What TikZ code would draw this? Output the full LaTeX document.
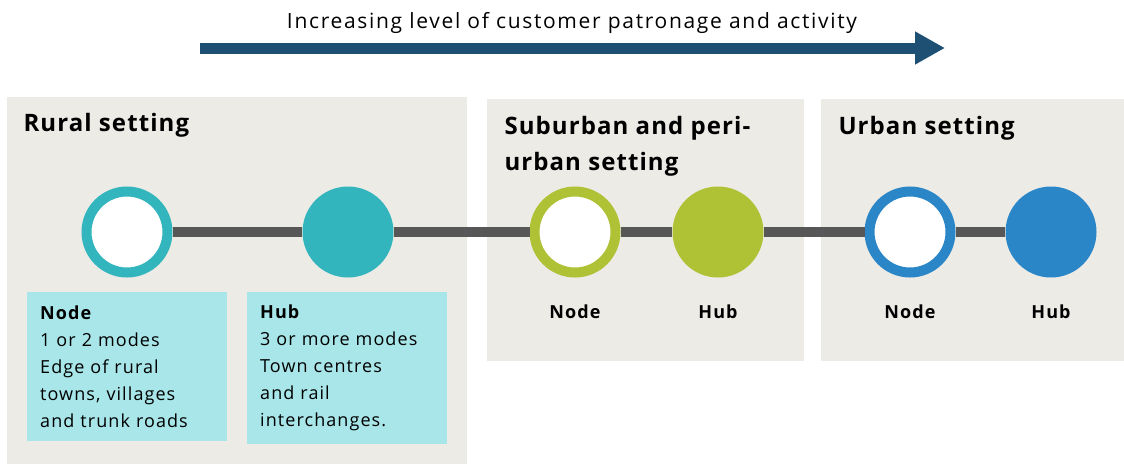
\documentclass[tikz,border=0pt]{standalone}
\usepackage{fontspec}
\setmainfont{Open Sans}
\usetikzlibrary{arrows.meta}

\definecolor{settinggray}{HTML}{ECEBE6}
\definecolor{infocyan}{HTML}{A8E6E9}
\definecolor{ruralteal}{HTML}{32B5BD}
\definecolor{suburbgreen}{HTML}{AFC236}
\definecolor{urbanblue}{HTML}{2B86C7}
\definecolor{trendblue}{HTML}{1E5074}
\definecolor{linegray}{HTML}{575757}

\begin{document}
\begin{tikzpicture}[x=1pt, y=-1pt,
	setting/.style={fill=settinggray},
	infobox/.style={fill=infocyan, anchor=north west, align=left, text width=174pt, inner xsep=13pt, inner ysep=13pt, minimum height=149pt, font=\fontsize{18}{27}\selectfont\addfontfeature{LetterSpace=6}},
	ring/.style={circle, draw=#1, fill=white, line width=10pt, minimum size=81pt, inner sep=0pt},
	hub/.style={circle, fill=#1, minimum size=91pt, inner sep=0pt},
	link/.style={draw=linegray, line width=10pt},
	title/.style={anchor=base west, align=left, font=\fontsize{24}{36}\selectfont\bfseries\addfontfeature{LetterSpace=4.5}},
	stoplabel/.style={anchor=base, font=\fontsize{18}{27}\selectfont\bfseries\addfontfeature{LetterSpace=6}}
]
	\useasboundingbox (0,0) rectangle (1124,464);
	\path[setting] (7,97) rectangle (467,464);
	\path[setting] (487,99) rectangle (804,361);
	\path[setting] (821,99) rectangle (1124,361);

	\coordinate (trendstart) at (200,48);
	\coordinate (trendend) at (945,48);
	\draw[-{Triangle[length=30pt, width=31pt]}, line width=11pt, trendblue] (trendstart)--(trendend);
	\node[anchor=base, font=\fontsize{21}{30}\selectfont\addfontfeature{LetterSpace=8}] (trend) at (572,28) {Increasing level of customer patronage and activity};

	\node[title] (rural) at (20,131) {Rural setting};
	\node[title] (suburban) at (501,170) {Suburban and peri-\\urban setting};
	\node[title] (urban) at (835,134) {Urban setting};

	\node[ring=ruralteal] (rnode) at (127,232) {};
	\node[hub=ruralteal] (rhub) at (348,232) {};
	\node[ring=suburbgreen] (snode) at (575,232) {};
	\node[hub=suburbgreen] (shub) at (718,232) {};
	\node[ring=urbanblue] (unode) at (910,232) {};
	\node[hub=urbanblue] (uhub) at (1051,232) {};
	\draw[link] (rnode)--(rhub);
	\draw[link] (rhub)--(snode);
	\draw[link] (snode)--(shub);
	\draw[link] (shub)--(unode);
	\draw[link] (unode)--(uhub);

	\node[infobox] (rnodeinfo) at (27,292) {\textbf{Node}\\1 or 2 modes\\Edge of rural\\towns, villages\\and trunk roads};
	\node[infobox] (rhubinfo) at (247,292) {\textbf{Hub}\\3 or more modes\\Town centres\\and rail\\interchanges.};
	\node[stoplabel] (snodelabel) at (575,318) {Node};
	\node[stoplabel] (shublabel) at (718,318) {Hub};
	\node[stoplabel] (unodelabel) at (910,318) {Node};
	\node[stoplabel] (uhublabel) at (1051,318) {Hub};
\end{tikzpicture}
\end{document}
